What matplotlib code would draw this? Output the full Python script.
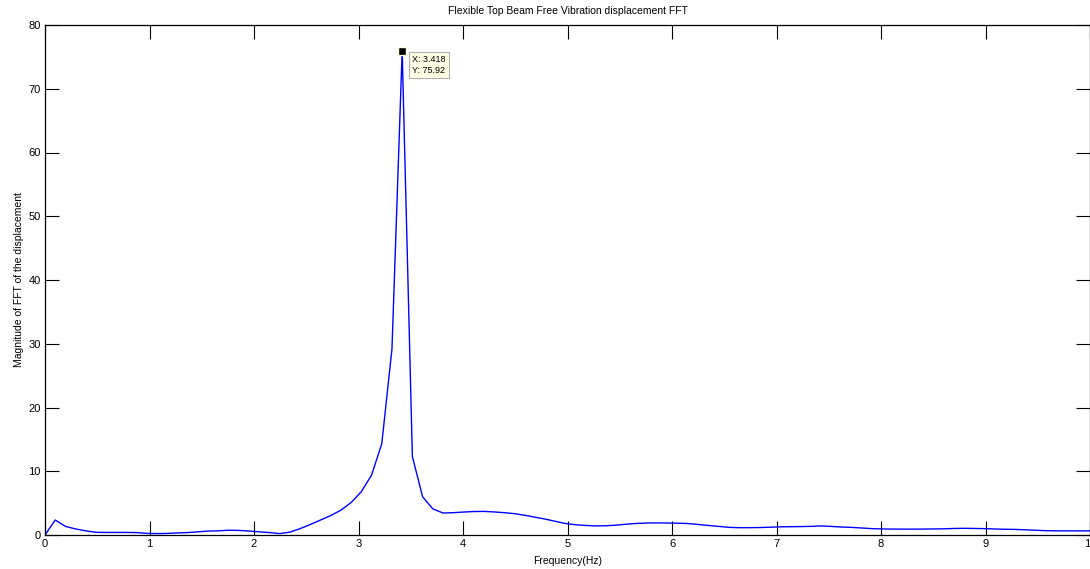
import numpy as np
import matplotlib.pyplot as plt

plt.rcParams['font.family'] = ['Liberation Sans', 'DejaVu Sans']

# FFT bins (df = 100/1024 Hz) and magnitudes
k = np.arange(104)
freq = k * 100.0 / 1024.0
mag = [0.0, 2.35, 1.35, 0.95, 0.65, 0.42, 0.40, 0.40, 0.40, 0.38,
       0.25, 0.22, 0.25, 0.33, 0.38, 0.50, 0.62, 0.65, 0.75, 0.72,
       0.62, 0.50, 0.38, 0.22, 0.45, 1.0, 1.65, 2.35, 3.05, 3.9,
       5.1, 6.8, 9.4, 14.3, 29.2, 75.92, 12.3, 6.0, 4.1, 3.45,
       3.5, 3.6, 3.68, 3.7, 3.62, 3.5, 3.35, 3.1, 2.8, 2.5,
       2.15, 1.8, 1.6, 1.5, 1.42, 1.45, 1.55, 1.7, 1.82, 1.88,
       1.9, 1.88, 1.85, 1.8, 1.65, 1.5, 1.35, 1.2, 1.15, 1.15,
       1.17, 1.22, 1.28, 1.3, 1.32, 1.35, 1.42, 1.35, 1.25, 1.2,
       1.1, 1.0, 0.95, 0.93, 0.92, 0.92, 0.93, 0.95, 0.97, 1.02,
       1.05, 1.03, 1.0, 0.95, 0.9, 0.88, 0.82, 0.75, 0.68, 0.65,
       0.65, 0.65, 0.65, 0.65]
peak_x, peak_y = 3.418, 75.92

fig = plt.figure(figsize=(10.9, 5.69), dpi=100)
ax = fig.add_axes([45/1090, 1 - 535/569, 1 - 45/1090, 510/569])
ax.plot(freq, mag, color='blue', lw=1)
ax.set_xlim(0, 10)
ax.set_ylim(0, 80)
ax.set_xticks(range(0, 11))
ax.set_yticks(range(0, 81, 10))
ax.tick_params(direction='in', length=10, width=0.8, top=True, right=True,
               labelsize=8, pad=3)
for s in ax.spines.values():
    s.set_linewidth(0.9)

ax.set_title('Flexible Top Beam Free Vibration displacement FFT', fontsize=7.5, pad=8)
ax.set_xlabel('Frequency(Hz)', fontsize=7.5, labelpad=5)
ax.set_ylabel('Magnitude of FFT of the displacement', fontsize=7.5, labelpad=3)

# data tip
ax.plot([peak_x], [peak_y], marker='s', color='black', ms=6,
        markeredgecolor='#ffffe0', markeredgewidth=1, clip_on=False)
ax.annotate('X: %.3f\nY: %.2f' % (peak_x, peak_y), xy=(peak_x, peak_y),
            xytext=(7, -3), textcoords='offset points', fontsize=6.5,
            va='top', ha='left', linespacing=1.2,
            bbox=dict(boxstyle='square,pad=0.35', fc='#ffffe6', ec='#b0b0b0', lw=0.8))

fig.savefig('out.png', dpi=100)
